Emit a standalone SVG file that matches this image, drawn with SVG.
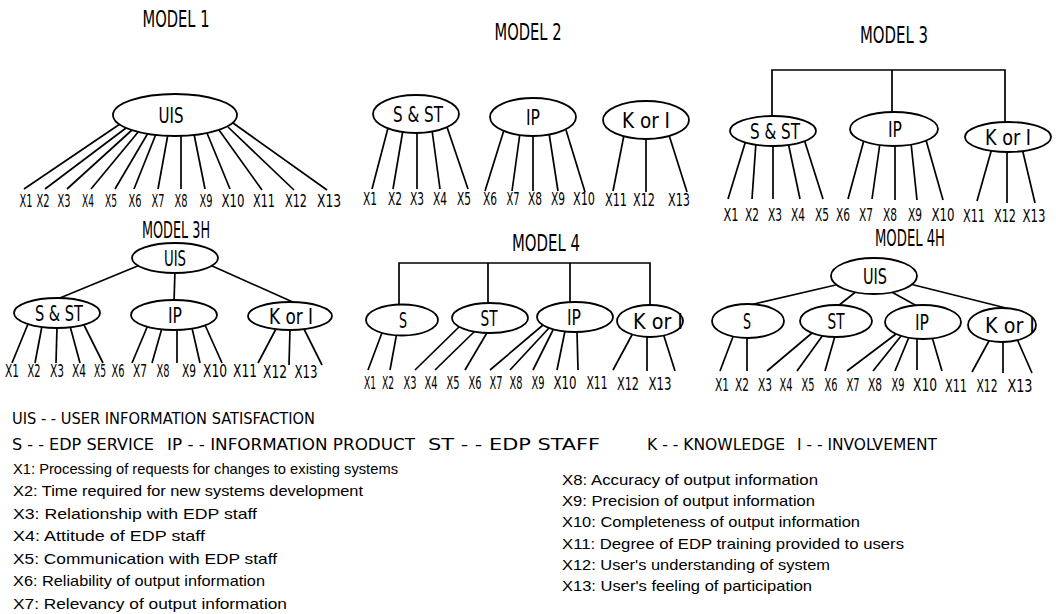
<svg xmlns="http://www.w3.org/2000/svg" width="1056" height="614" viewBox="0 0 1056 614">
<style>
text{font-family:"Liberation Sans Narrow","DejaVu Sans Condensed","Liberation Sans",sans-serif;fill:#000}
.t{font-size:23px;text-anchor:middle}
.l{font-size:18px;text-anchor:middle}
.n{font-size:22px;text-anchor:middle}
.g{font-family:"Liberation Sans",Arial,sans-serif;font-size:15px}
.h{font-size:16px}
ellipse{fill:#fff;stroke:#000;stroke-width:1.8}
#connectors line,#connectors path{stroke:#000;stroke-width:1.7;fill:none}
</style>
<rect width="1056" height="614" fill="#fff"/>

<g id="titles">
<text class="t" x="176" y="27" textLength="67" lengthAdjust="spacingAndGlyphs">MODEL 1</text>
<text class="t" x="528" y="40" textLength="67" lengthAdjust="spacingAndGlyphs">MODEL 2</text>
<text class="t" x="894" y="43" textLength="68" lengthAdjust="spacingAndGlyphs">MODEL 3</text>
<text class="t" x="176" y="238" textLength="68" lengthAdjust="spacingAndGlyphs">MODEL 3H</text>
<text class="t" x="546" y="251" textLength="68" lengthAdjust="spacingAndGlyphs">MODEL 4</text>
<text class="t" x="910" y="246" textLength="70" lengthAdjust="spacingAndGlyphs">MODEL 4H</text>
</g>

<g id="connectors">
<!-- Model 1 -->
<line x1="120" y1="124" x2="24" y2="189"/>
<line x1="126" y1="128" x2="45" y2="189"/>
<line x1="132" y1="130" x2="67" y2="189"/>
<line x1="139" y1="131" x2="91" y2="189"/>
<line x1="148" y1="133" x2="115" y2="189"/>
<line x1="156" y1="134" x2="134" y2="189"/>
<line x1="168" y1="134" x2="158" y2="189"/>
<line x1="181" y1="134" x2="181" y2="189"/>
<line x1="194" y1="134" x2="205" y2="189"/>
<line x1="207" y1="133" x2="230" y2="189"/>
<line x1="219" y1="130" x2="262" y2="190"/>
<line x1="228" y1="127" x2="294" y2="190"/>
<line x1="233" y1="123" x2="327" y2="190"/>
<!-- Model 2 -->
<line x1="388" y1="128" x2="372" y2="189"/>
<line x1="403" y1="130" x2="393" y2="189"/>
<line x1="417" y1="131" x2="417" y2="189"/>
<line x1="432" y1="130" x2="440" y2="189"/>
<line x1="447" y1="127" x2="468" y2="189"/>
<line x1="504" y1="130" x2="485" y2="191"/>
<line x1="520" y1="133" x2="512" y2="191"/>
<line x1="533" y1="134" x2="533" y2="191"/>
<line x1="549" y1="133" x2="558" y2="191"/>
<line x1="566" y1="130" x2="585" y2="192"/>
<line x1="624" y1="135" x2="613" y2="191"/>
<line x1="646" y1="137" x2="646" y2="192"/>
<line x1="669" y1="135" x2="687" y2="192"/>
<!-- Model 3 -->
<path d="M772,118 V70 H1005 V123 M892,70 V113"/>
<line x1="746" y1="140" x2="728" y2="199"/>
<line x1="756" y1="142" x2="752" y2="199"/>
<line x1="773" y1="143" x2="773" y2="199"/>
<line x1="788" y1="142" x2="800" y2="199"/>
<line x1="804" y1="139" x2="823" y2="199"/>
<line x1="864" y1="140" x2="848" y2="199"/>
<line x1="880" y1="143" x2="872" y2="199"/>
<line x1="895" y1="144" x2="895" y2="200"/>
<line x1="911" y1="143" x2="917" y2="200"/>
<line x1="926" y1="140" x2="943" y2="200"/>
<line x1="992" y1="148" x2="977" y2="201"/>
<line x1="1007" y1="150" x2="1007" y2="203"/>
<line x1="1022" y1="148" x2="1035" y2="203"/>
<!-- Model 3H -->
<line x1="140" y1="265" x2="55" y2="300"/>
<line x1="175" y1="270" x2="174" y2="302"/>
<line x1="210" y1="265" x2="295" y2="303"/>
<line x1="28" y1="324" x2="12" y2="363"/>
<line x1="42" y1="326" x2="35" y2="363"/>
<line x1="57" y1="327" x2="56" y2="363"/>
<line x1="70" y1="326" x2="80" y2="363"/>
<line x1="83" y1="323" x2="103" y2="363"/>
<line x1="148" y1="325" x2="132" y2="363"/>
<line x1="162" y1="328" x2="152" y2="363"/>
<line x1="177" y1="329" x2="177" y2="363"/>
<line x1="192" y1="328" x2="200" y2="363"/>
<line x1="205" y1="325" x2="222" y2="363"/>
<line x1="277" y1="327" x2="258" y2="363"/>
<line x1="290" y1="329" x2="289" y2="365"/>
<line x1="303" y1="327" x2="322" y2="365"/>
<!-- Model 4 -->
<path d="M399,306 V263 H650 V306 M488,263 V304 M570,263 V303"/>
<line x1="383" y1="330" x2="368" y2="370"/>
<line x1="397" y1="332" x2="390" y2="370"/>
<line x1="460" y1="326" x2="415" y2="370"/>
<line x1="476" y1="330" x2="435" y2="370"/>
<line x1="488" y1="331" x2="465" y2="370"/>
<line x1="543" y1="325" x2="490" y2="370"/>
<line x1="549" y1="328" x2="510" y2="370"/>
<line x1="553" y1="330" x2="533" y2="370"/>
<line x1="565" y1="331" x2="557" y2="370"/>
<line x1="577" y1="331" x2="578" y2="370"/>
<line x1="633" y1="333" x2="613" y2="370"/>
<line x1="647" y1="335" x2="647" y2="371"/>
<line x1="663" y1="333" x2="675" y2="371"/>
<!-- Model 4H -->
<line x1="840" y1="284" x2="750" y2="305"/>
<line x1="858" y1="290" x2="838" y2="306"/>
<line x1="888" y1="290" x2="917" y2="306"/>
<line x1="910" y1="284" x2="1010" y2="309"/>
<line x1="734" y1="334" x2="720" y2="371"/>
<line x1="747" y1="336" x2="747" y2="371"/>
<line x1="812" y1="333" x2="767" y2="371"/>
<line x1="823" y1="335" x2="797" y2="371"/>
<line x1="835" y1="336" x2="825" y2="371"/>
<line x1="896" y1="334" x2="847" y2="371"/>
<line x1="901" y1="336" x2="873" y2="371"/>
<line x1="909" y1="337" x2="895" y2="371"/>
<line x1="917" y1="338" x2="917" y2="370"/>
<line x1="932" y1="337" x2="942" y2="371"/>
<line x1="990" y1="339" x2="972" y2="372"/>
<line x1="1003" y1="341" x2="1003" y2="373"/>
<line x1="1017" y1="339" x2="1032" y2="373"/>
</g>

<!-- Model 1 nodes -->
<g id="m1-uis"><ellipse cx="175" cy="115" rx="62" ry="21"/><text class="n" x="171" y="123" textLength="25" lengthAdjust="spacingAndGlyphs">UIS</text></g>
<g id="m1-labels">
<text class="l" x="26" y="207" textLength="13" lengthAdjust="spacingAndGlyphs">X1</text>
<text class="l" x="43" y="207" textLength="13" lengthAdjust="spacingAndGlyphs">X2</text>
<text class="l" x="64" y="207" textLength="13" lengthAdjust="spacingAndGlyphs">X3</text>
<text class="l" x="88" y="207" textLength="12" lengthAdjust="spacingAndGlyphs">X4</text>
<text class="l" x="111" y="207" textLength="12" lengthAdjust="spacingAndGlyphs">X5</text>
<text class="l" x="135" y="207" textLength="13" lengthAdjust="spacingAndGlyphs">X6</text>
<text class="l" x="158" y="207" textLength="13" lengthAdjust="spacingAndGlyphs">X7</text>
<text class="l" x="181" y="207" textLength="13" lengthAdjust="spacingAndGlyphs">X8</text>
<text class="l" x="206" y="207" textLength="13" lengthAdjust="spacingAndGlyphs">X9</text>
<text class="l" x="233" y="207" textLength="23" lengthAdjust="spacingAndGlyphs">X10</text>
<text class="l" x="264" y="207" textLength="22" lengthAdjust="spacingAndGlyphs">X11</text>
<text class="l" x="296" y="207" textLength="22" lengthAdjust="spacingAndGlyphs">X12</text>
<text class="l" x="329" y="207" textLength="24" lengthAdjust="spacingAndGlyphs">X13</text>
</g>

<!-- Model 2 nodes -->
<g id="m2-sst"><ellipse cx="416" cy="114" rx="43" ry="19"/><text class="n" x="418" y="122" textLength="50" lengthAdjust="spacingAndGlyphs">S &amp; ST</text></g>
<g id="m2-ip"><ellipse cx="533" cy="117" rx="43" ry="19"/><text class="n" x="533" y="125" textLength="14" lengthAdjust="spacingAndGlyphs">IP</text></g>
<g id="m2-ki"><ellipse cx="646" cy="120" rx="43" ry="19"/><text class="n" x="646" y="128" textLength="48" lengthAdjust="spacingAndGlyphs">K or I</text></g>
<g id="m2-labels">
<text class="l" x="370" y="205" textLength="14" lengthAdjust="spacingAndGlyphs">X1</text>
<text class="l" x="395" y="205" textLength="14" lengthAdjust="spacingAndGlyphs">X2</text>
<text class="l" x="417" y="205" textLength="14" lengthAdjust="spacingAndGlyphs">X3</text>
<text class="l" x="440" y="205" textLength="14" lengthAdjust="spacingAndGlyphs">X4</text>
<text class="l" x="464" y="205" textLength="14" lengthAdjust="spacingAndGlyphs">X5</text>
<text class="l" x="490" y="205" textLength="14" lengthAdjust="spacingAndGlyphs">X6</text>
<text class="l" x="513" y="205" textLength="13" lengthAdjust="spacingAndGlyphs">X7</text>
<text class="l" x="535" y="205" textLength="14" lengthAdjust="spacingAndGlyphs">X8</text>
<text class="l" x="558" y="205" textLength="14" lengthAdjust="spacingAndGlyphs">X9</text>
<text class="l" x="584" y="205" textLength="22" lengthAdjust="spacingAndGlyphs">X10</text>
<text class="l" x="616" y="206" textLength="22" lengthAdjust="spacingAndGlyphs">X11</text>
<text class="l" x="644" y="206" textLength="22" lengthAdjust="spacingAndGlyphs">X12</text>
<text class="l" x="679" y="206" textLength="22" lengthAdjust="spacingAndGlyphs">X13</text>
</g>

<!-- Model 3 nodes -->
<g id="m3-sst"><ellipse cx="773" cy="131" rx="43" ry="15"/><text class="n" x="775" y="139" textLength="50" lengthAdjust="spacingAndGlyphs">S &amp; ST</text></g>
<g id="m3-ip"><ellipse cx="894" cy="129" rx="44" ry="17"/><text class="n" x="895" y="137" textLength="14" lengthAdjust="spacingAndGlyphs">IP</text></g>
<g id="m3-ki"><ellipse cx="1008" cy="137" rx="43" ry="15"/><text class="n" x="1008" y="145" textLength="46" lengthAdjust="spacingAndGlyphs">K or I</text></g>
<g id="m3-labels">
<text class="l" x="731" y="221" textLength="15" lengthAdjust="spacingAndGlyphs">X1</text>
<text class="l" x="752" y="221" textLength="14" lengthAdjust="spacingAndGlyphs">X2</text>
<text class="l" x="775" y="221" textLength="14" lengthAdjust="spacingAndGlyphs">X3</text>
<text class="l" x="798" y="221" textLength="14" lengthAdjust="spacingAndGlyphs">X4</text>
<text class="l" x="822" y="221" textLength="14" lengthAdjust="spacingAndGlyphs">X5</text>
<text class="l" x="843" y="221" textLength="14" lengthAdjust="spacingAndGlyphs">X6</text>
<text class="l" x="866" y="221" textLength="14" lengthAdjust="spacingAndGlyphs">X7</text>
<text class="l" x="890" y="221" textLength="14" lengthAdjust="spacingAndGlyphs">X8</text>
<text class="l" x="915" y="221" textLength="14" lengthAdjust="spacingAndGlyphs">X9</text>
<text class="l" x="943" y="221" textLength="23" lengthAdjust="spacingAndGlyphs">X10</text>
<text class="l" x="974" y="222" textLength="22" lengthAdjust="spacingAndGlyphs">X11</text>
<text class="l" x="1005" y="222" textLength="22" lengthAdjust="spacingAndGlyphs">X12</text>
<text class="l" x="1034" y="222" textLength="23" lengthAdjust="spacingAndGlyphs">X13</text>
</g>

<!-- Model 3H nodes -->
<g id="m3h-uis"><ellipse cx="175" cy="258" rx="43" ry="15"/><text class="n" x="175" y="266" textLength="22" lengthAdjust="spacingAndGlyphs">UIS</text></g>
<g id="m3h-sst"><ellipse cx="57" cy="313" rx="43" ry="15"/><text class="n" x="59" y="321" textLength="48" lengthAdjust="spacingAndGlyphs">S &amp; ST</text></g>
<g id="m3h-ip"><ellipse cx="174" cy="315" rx="43" ry="15"/><text class="n" x="175" y="323" textLength="14" lengthAdjust="spacingAndGlyphs">IP</text></g>
<g id="m3h-ki"><ellipse cx="290" cy="316" rx="42" ry="14"/><text class="n" x="291" y="324" textLength="44" lengthAdjust="spacingAndGlyphs">K or I</text></g>
<g id="m3h-labels">
<text class="l" x="12" y="377" textLength="14" lengthAdjust="spacingAndGlyphs">X1</text>
<text class="l" x="34" y="377" textLength="13" lengthAdjust="spacingAndGlyphs">X2</text>
<text class="l" x="57" y="377" textLength="14" lengthAdjust="spacingAndGlyphs">X3</text>
<text class="l" x="79" y="377" textLength="14" lengthAdjust="spacingAndGlyphs">X4</text>
<text class="l" x="100" y="377" textLength="12" lengthAdjust="spacingAndGlyphs">X5</text>
<text class="l" x="118" y="377" textLength="13" lengthAdjust="spacingAndGlyphs">X6</text>
<text class="l" x="140" y="377" textLength="14" lengthAdjust="spacingAndGlyphs">X7</text>
<text class="l" x="163" y="377" textLength="13" lengthAdjust="spacingAndGlyphs">X8</text>
<text class="l" x="189" y="377" textLength="14" lengthAdjust="spacingAndGlyphs">X9</text>
<text class="l" x="215" y="377" textLength="24" lengthAdjust="spacingAndGlyphs">X10</text>
<text class="l" x="245" y="377" textLength="24" lengthAdjust="spacingAndGlyphs">X11</text>
<text class="l" x="275" y="378" textLength="24" lengthAdjust="spacingAndGlyphs">X12</text>
<text class="l" x="306" y="378" textLength="23" lengthAdjust="spacingAndGlyphs">X13</text>
</g>

<!-- Model 4 nodes -->
<g id="m4-s"><ellipse cx="402" cy="320" rx="36" ry="15.5"/><text class="n" x="403" y="328" textLength="8" lengthAdjust="spacingAndGlyphs">S</text></g>
<g id="m4-st"><ellipse cx="490" cy="318" rx="38" ry="15"/><text class="n" x="489" y="326" textLength="17" lengthAdjust="spacingAndGlyphs">ST</text></g>
<g id="m4-ip"><ellipse cx="575" cy="317" rx="38" ry="15"/><text class="n" x="574" y="325" textLength="14" lengthAdjust="spacingAndGlyphs">IP</text></g>
<g id="m4-ki"><ellipse cx="650" cy="321" rx="33" ry="16"/><text class="n" x="658" y="329" textLength="50" lengthAdjust="spacingAndGlyphs">K or I</text></g>
<g id="m4-labels">
<text class="l" x="370" y="389" textLength="12" lengthAdjust="spacingAndGlyphs">X1</text>
<text class="l" x="388" y="389" textLength="12" lengthAdjust="spacingAndGlyphs">X2</text>
<text class="l" x="410" y="389" textLength="13" lengthAdjust="spacingAndGlyphs">X3</text>
<text class="l" x="431" y="389" textLength="13" lengthAdjust="spacingAndGlyphs">X4</text>
<text class="l" x="453" y="389" textLength="13" lengthAdjust="spacingAndGlyphs">X5</text>
<text class="l" x="475" y="389" textLength="13" lengthAdjust="spacingAndGlyphs">X6</text>
<text class="l" x="496" y="389" textLength="13" lengthAdjust="spacingAndGlyphs">X7</text>
<text class="l" x="516" y="389" textLength="13" lengthAdjust="spacingAndGlyphs">X8</text>
<text class="l" x="538" y="389" textLength="13" lengthAdjust="spacingAndGlyphs">X9</text>
<text class="l" x="565" y="389" textLength="23" lengthAdjust="spacingAndGlyphs">X10</text>
<text class="l" x="597" y="389" textLength="21" lengthAdjust="spacingAndGlyphs">X11</text>
<text class="l" x="628" y="390" textLength="22" lengthAdjust="spacingAndGlyphs">X12</text>
<text class="l" x="660" y="390" textLength="23" lengthAdjust="spacingAndGlyphs">X13</text>
</g>

<!-- Model 4H nodes -->
<g id="m4h-uis"><ellipse cx="874" cy="276" rx="43" ry="18"/><text class="n" x="875" y="284" textLength="24" lengthAdjust="spacingAndGlyphs">UIS</text></g>
<g id="m4h-s"><ellipse cx="748" cy="321" rx="36" ry="17"/><text class="n" x="747" y="329" textLength="8" lengthAdjust="spacingAndGlyphs">S</text></g>
<g id="m4h-st"><ellipse cx="836" cy="321" rx="36" ry="16"/><text class="n" x="836" y="329" textLength="17" lengthAdjust="spacingAndGlyphs">ST</text></g>
<g id="m4h-ip"><ellipse cx="923" cy="322" rx="38" ry="17"/><text class="n" x="922" y="330" textLength="14" lengthAdjust="spacingAndGlyphs">IP</text></g>
<g id="m4h-ki"><ellipse cx="1002" cy="325" rx="34" ry="17"/><text class="n" x="1010" y="333" textLength="50" lengthAdjust="spacingAndGlyphs">K or I</text></g>
<g id="m4h-labels">
<text class="l" x="722" y="391" textLength="14" lengthAdjust="spacingAndGlyphs">X1</text>
<text class="l" x="742" y="391" textLength="14" lengthAdjust="spacingAndGlyphs">X2</text>
<text class="l" x="765" y="391" textLength="14" lengthAdjust="spacingAndGlyphs">X3</text>
<text class="l" x="786" y="391" textLength="13" lengthAdjust="spacingAndGlyphs">X4</text>
<text class="l" x="808" y="391" textLength="13" lengthAdjust="spacingAndGlyphs">X5</text>
<text class="l" x="831" y="391" textLength="13" lengthAdjust="spacingAndGlyphs">X6</text>
<text class="l" x="853" y="391" textLength="13" lengthAdjust="spacingAndGlyphs">X7</text>
<text class="l" x="875" y="391" textLength="14" lengthAdjust="spacingAndGlyphs">X8</text>
<text class="l" x="898" y="391" textLength="13" lengthAdjust="spacingAndGlyphs">X9</text>
<text class="l" x="925" y="391" textLength="24" lengthAdjust="spacingAndGlyphs">X10</text>
<text class="l" x="956" y="392" textLength="22" lengthAdjust="spacingAndGlyphs">X11</text>
<text class="l" x="987" y="392" textLength="21" lengthAdjust="spacingAndGlyphs">X12</text>
<text class="l" x="1020" y="392" textLength="25" lengthAdjust="spacingAndGlyphs">X13</text>
</g>

<g id="legend">
<text class="h" x="12" y="424" textLength="303" lengthAdjust="spacingAndGlyphs">UIS - - USER INFORMATION SATISFACTION</text>
<text class="h" x="12" y="450" textLength="142" lengthAdjust="spacingAndGlyphs">S - - EDP SERVICE</text>
<text class="h" x="167" y="450" textLength="248" lengthAdjust="spacingAndGlyphs">IP - - INFORMATION PRODUCT</text>
<text class="h" x="428" y="450" textLength="172" lengthAdjust="spacingAndGlyphs">ST - - EDP STAFF</text>
<text class="h" x="647" y="450" textLength="138" lengthAdjust="spacingAndGlyphs">K - - KNOWLEDGE</text>
<text class="h" x="797" y="450" textLength="140" lengthAdjust="spacingAndGlyphs">I - - INVOLVEMENT</text>
<text class="g" x="13" y="474" textLength="385" lengthAdjust="spacingAndGlyphs">X1: Processing of requests for changes to existing systems</text>
<text class="g" x="13" y="496" textLength="350" lengthAdjust="spacingAndGlyphs">X2: Time required for new systems development</text>
<text class="g" x="13" y="519" textLength="244" lengthAdjust="spacingAndGlyphs">X3: Relationship with EDP staff</text>
<text class="g" x="13" y="541" textLength="192" lengthAdjust="spacingAndGlyphs">X4: Attitude of EDP staff</text>
<text class="g" x="13" y="564" textLength="264" lengthAdjust="spacingAndGlyphs">X5: Communication with EDP staff</text>
<text class="g" x="13" y="586" textLength="252" lengthAdjust="spacingAndGlyphs">X6: Reliability of output information</text>
<text class="g" x="13" y="609" textLength="274" lengthAdjust="spacingAndGlyphs">X7: Relevancy of output information</text>
<text class="g" x="562" y="485" textLength="256" lengthAdjust="spacingAndGlyphs">X8: Accuracy of output information</text>
<text class="g" x="562" y="506" textLength="253" lengthAdjust="spacingAndGlyphs">X9: Precision of output information</text>
<text class="g" x="562" y="527" textLength="298" lengthAdjust="spacingAndGlyphs">X10: Completeness of output information</text>
<text class="g" x="562" y="549" textLength="342" lengthAdjust="spacingAndGlyphs">X11: Degree of EDP training provided to users</text>
<text class="g" x="562" y="570" textLength="268" lengthAdjust="spacingAndGlyphs">X12: User's understanding of system</text>
<text class="g" x="562" y="591" textLength="250" lengthAdjust="spacingAndGlyphs">X13: User's feeling of participation</text>
</g>
</svg>
